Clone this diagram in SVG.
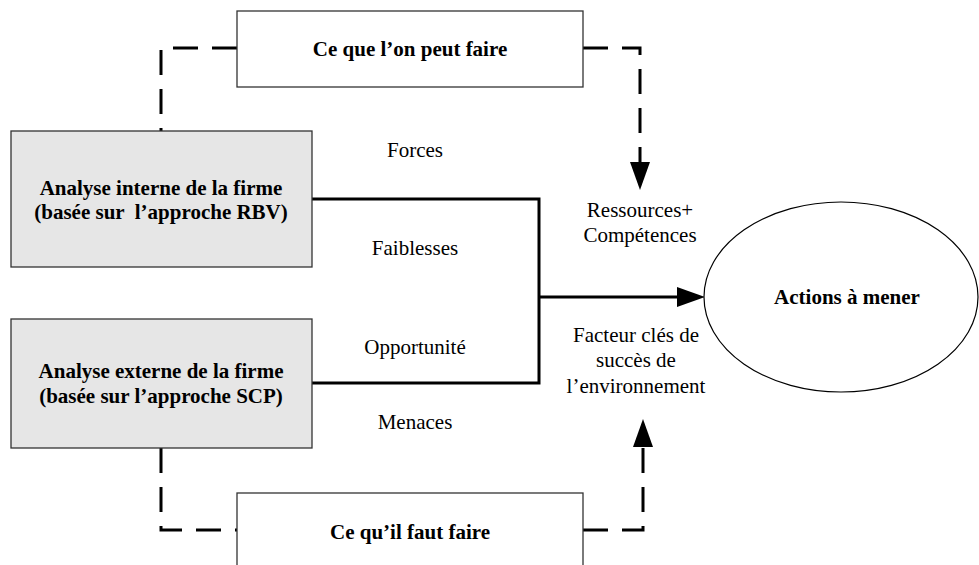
<svg xmlns="http://www.w3.org/2000/svg" width="979" height="565" viewBox="0 0 979 565">
  <style>
    .box { fill: #ffffff; stroke: #333333; stroke-width: 1.3; }
    .gbox { fill: #e6e6e6; stroke: #333333; stroke-width: 1.3; }
    .ell { fill: #ffffff; stroke: #000000; stroke-width: 1.2; }
    .t { font-family: "Liberation Serif", "Times New Roman", serif; font-size: 21px; fill: #000; text-anchor: middle; }
    .b { font-weight: bold; }
    .solid { fill: none; stroke: #000; stroke-width: 3; }
    .dash { fill: none; stroke: #000; stroke-width: 3; stroke-dasharray: 25 14; }
  </style>
  <defs>
    <marker id="arr" viewBox="0 0 28 20" refX="0" refY="10" markerWidth="28" markerHeight="20" markerUnits="userSpaceOnUse" orient="auto">
      <path d="M0,0 L28,10 L0,20 Z" fill="#000"/>
    </marker>
  </defs>
  <rect width="979" height="565" fill="#ffffff"/>

  <g id="connectors">
    <path class="dash" d="M237,48 H161 V131"/>
    <path class="dash" d="M583,48 H640 V162" marker-end="url(#arr)"/>
    <path class="dash" d="M161,448 V530 H237"/>
    <path class="dash" d="M583,530 H643 V447" marker-end="url(#arr)"/>
    <path class="solid" d="M312,199 H539 V383 H312"/>
    <path class="solid" d="M539,297 H677" marker-end="url(#arr)"/>
  </g>

  <g id="node-peut">
    <rect class="box" x="237" y="11" width="346" height="76"/>
    <text class="t b" x="410" y="56">Ce que l’on peut faire</text>
  </g>
  <g id="node-interne">
    <rect class="gbox" x="11" y="131" width="301" height="136"/>
    <text class="t b" x="161" y="195">Analyse interne de la firme</text>
    <text class="t b" x="161" y="219" xml:space="preserve">(basée sur  l’approche RBV)</text>
  </g>
  <g id="node-externe">
    <rect class="gbox" x="11" y="319" width="301" height="129"/>
    <text class="t b" x="161" y="378">Analyse externe de la firme</text>
    <text class="t b" x="161" y="403">(basée sur l’approche SCP)</text>
  </g>
  <g id="node-faut">
    <rect class="box" x="237" y="493" width="346" height="90"/>
    <text class="t b" x="410" y="539">Ce qu’il faut faire</text>
  </g>
  <g id="node-actions">
    <ellipse class="ell" cx="841" cy="297" rx="137" ry="95"/>
    <text class="t b" x="847" y="304">Actions à mener</text>
  </g>

  <g id="labels">
    <text class="t" x="415" y="157">Forces</text>
    <text class="t" x="415" y="255">Faiblesses</text>
    <text class="t" x="415" y="354">Opportunité</text>
    <text class="t" x="415" y="429">Menaces</text>
    <text class="t" x="640" y="217">Ressources+</text>
    <text class="t" x="640" y="242">Compétences</text>
    <text class="t" x="636" y="342">Facteur clés de</text>
    <text class="t" x="636" y="367">succès de</text>
    <text class="t" x="636" y="393">l’environnement</text>
  </g>
</svg>
